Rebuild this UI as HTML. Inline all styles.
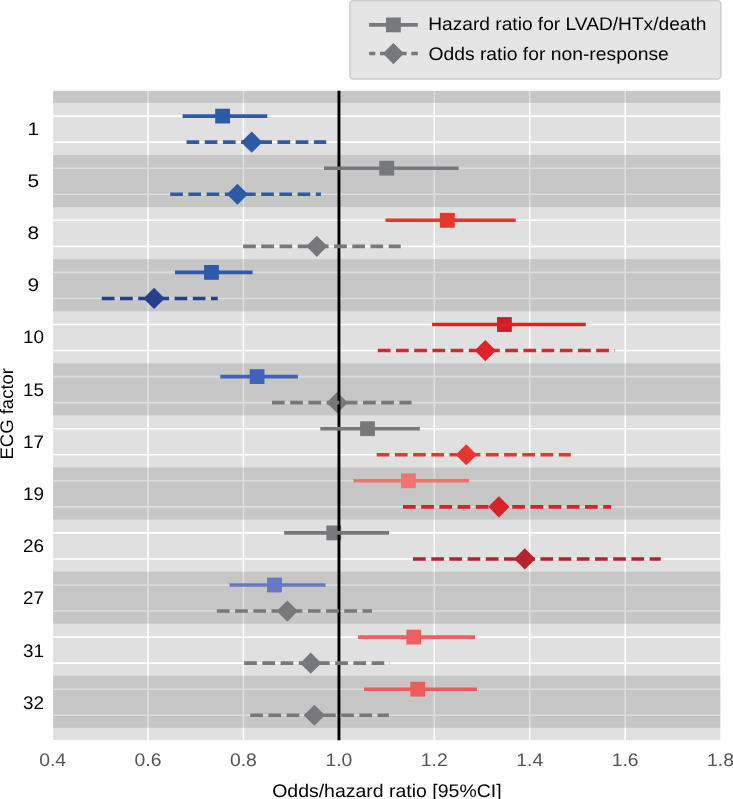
<!DOCTYPE html>
<html><head><meta charset="utf-8"><title>ECG factor forest plot</title>
<style>html,body{margin:0;padding:0;background:#fff}body{width:733px;height:799px;overflow:hidden}svg{display:block;will-change:transform}text{font-family:"Liberation Sans",sans-serif;text-rendering:geometricPrecision}</style>
</head><body>
<svg width="733" height="799" viewBox="0 0 733 799">
<rect x="0" y="0" width="733" height="799" fill="#ffffff"/>
<rect x="53.20" y="90.85" width="667.10" height="649.30" fill="#e0e0e0"/>
<g stroke="#ffffff" stroke-width="1.6">
<line x1="148.02" y1="90.85" x2="148.02" y2="740.15"/>
<line x1="243.44" y1="90.85" x2="243.44" y2="740.15"/>
<line x1="338.86" y1="90.85" x2="338.86" y2="740.15"/>
<line x1="434.28" y1="90.85" x2="434.28" y2="740.15"/>
<line x1="529.70" y1="90.85" x2="529.70" y2="740.15"/>
<line x1="625.12" y1="90.85" x2="625.12" y2="740.15"/>
<line x1="53.20" y1="116.10" x2="720.30" y2="116.10"/>
<line x1="53.20" y1="142.15" x2="720.30" y2="142.15"/>
<line x1="53.20" y1="168.20" x2="720.30" y2="168.20"/>
<line x1="53.20" y1="194.25" x2="720.30" y2="194.25"/>
<line x1="53.20" y1="220.30" x2="720.30" y2="220.30"/>
<line x1="53.20" y1="246.35" x2="720.30" y2="246.35"/>
<line x1="53.20" y1="272.40" x2="720.30" y2="272.40"/>
<line x1="53.20" y1="298.45" x2="720.30" y2="298.45"/>
<line x1="53.20" y1="324.50" x2="720.30" y2="324.50"/>
<line x1="53.20" y1="350.55" x2="720.30" y2="350.55"/>
<line x1="53.20" y1="376.60" x2="720.30" y2="376.60"/>
<line x1="53.20" y1="402.65" x2="720.30" y2="402.65"/>
<line x1="53.20" y1="428.70" x2="720.30" y2="428.70"/>
<line x1="53.20" y1="454.75" x2="720.30" y2="454.75"/>
<line x1="53.20" y1="480.80" x2="720.30" y2="480.80"/>
<line x1="53.20" y1="506.85" x2="720.30" y2="506.85"/>
<line x1="53.20" y1="532.90" x2="720.30" y2="532.90"/>
<line x1="53.20" y1="558.95" x2="720.30" y2="558.95"/>
<line x1="53.20" y1="585.00" x2="720.30" y2="585.00"/>
<line x1="53.20" y1="611.05" x2="720.30" y2="611.05"/>
<line x1="53.20" y1="637.10" x2="720.30" y2="637.10"/>
<line x1="53.20" y1="663.15" x2="720.30" y2="663.15"/>
<line x1="53.20" y1="689.20" x2="720.30" y2="689.20"/>
<line x1="53.20" y1="715.25" x2="720.30" y2="715.25"/>
</g>
<rect x="53.20" y="90.85" width="667.10" height="12.05" fill="#808080" fill-opacity="0.27"/>
<rect x="53.20" y="154.98" width="667.10" height="52.08" fill="#808080" fill-opacity="0.27"/>
<rect x="53.20" y="259.14" width="667.10" height="52.08" fill="#808080" fill-opacity="0.27"/>
<rect x="53.20" y="363.30" width="667.10" height="52.08" fill="#808080" fill-opacity="0.27"/>
<rect x="53.20" y="467.46" width="667.10" height="52.08" fill="#808080" fill-opacity="0.27"/>
<rect x="53.20" y="571.62" width="667.10" height="52.08" fill="#808080" fill-opacity="0.27"/>
<rect x="53.20" y="675.78" width="667.10" height="52.08" fill="#808080" fill-opacity="0.27"/>
<rect x="215.20" y="108.70" width="14.80" height="14.80" fill="#2e5aa9"/>
<path d="M241.10 142.15L251.70 131.55L262.30 142.15L251.70 152.75Z" fill="#2e5aa9"/>
<rect x="379.30" y="160.80" width="14.80" height="14.80" fill="#77787b"/>
<path d="M226.80 194.25L237.40 183.65L248.00 194.25L237.40 204.85Z" fill="#2e5aa9"/>
<rect x="439.90" y="212.90" width="14.80" height="14.80" fill="#e8352e"/>
<path d="M306.20 246.35L316.80 235.75L327.40 246.35L316.80 256.95Z" fill="#77787b"/>
<rect x="204.10" y="265.00" width="14.80" height="14.80" fill="#2e5aa9"/>
<path d="M143.50 298.45L154.10 287.85L164.70 298.45L154.10 309.05Z" fill="#253f8c"/>
<rect x="497.00" y="317.10" width="14.80" height="14.80" fill="#cf1e26"/>
<path d="M474.70 350.55L485.30 339.95L495.90 350.55L485.30 361.15Z" fill="#e3212a"/>
<rect x="249.70" y="369.20" width="14.80" height="14.80" fill="#4262b5"/>
<path d="M326.60 402.65L337.20 392.05L347.80 402.65L337.20 413.25Z" fill="#77787b"/>
<rect x="360.10" y="421.30" width="14.80" height="14.80" fill="#77787b"/>
<path d="M455.60 454.75L466.20 444.15L476.80 454.75L466.20 465.35Z" fill="#e8352d"/>
<rect x="401.00" y="473.40" width="14.80" height="14.80" fill="#f27272"/>
<path d="M488.30 506.85L498.90 496.25L509.50 506.85L498.90 517.45Z" fill="#d6222a"/>
<rect x="326.40" y="525.50" width="14.80" height="14.80" fill="#77787b"/>
<path d="M514.20 558.95L524.80 548.35L535.40 558.95L524.80 569.55Z" fill="#b5242c"/>
<rect x="267.10" y="577.60" width="14.80" height="14.80" fill="#6877c4"/>
<path d="M276.70 611.05L287.30 600.45L297.90 611.05L287.30 621.65Z" fill="#77787b"/>
<rect x="406.40" y="629.70" width="14.80" height="14.80" fill="#ee5f5f"/>
<path d="M300.10 663.15L310.70 652.55L321.30 663.15L310.70 673.75Z" fill="#77787b"/>
<rect x="410.30" y="681.80" width="14.80" height="14.80" fill="#ef5a5a"/>
<path d="M303.80 715.25L314.40 704.65L325.00 715.25L314.40 725.85Z" fill="#77787b"/>
<line x1="338.95" y1="90.85" x2="338.95" y2="740.15" stroke="#000" stroke-width="2.9"/>
<line x1="182.60" y1="116.10" x2="267.30" y2="116.10" stroke="#2e5aa9" stroke-width="3.60"/>
<line x1="186.50" y1="142.15" x2="326.30" y2="142.15" stroke="#2e5aa9" stroke-width="3.60" stroke-dasharray="12.7 5.5"/>
<line x1="324.00" y1="168.20" x2="458.60" y2="168.20" stroke="#77787b" stroke-width="3.60"/>
<line x1="170.20" y1="194.25" x2="320.90" y2="194.25" stroke="#2e5aa9" stroke-width="3.60" stroke-dasharray="12.7 5.5"/>
<line x1="385.50" y1="220.30" x2="515.70" y2="220.30" stroke="#e8352e" stroke-width="3.60"/>
<line x1="243.10" y1="246.35" x2="400.70" y2="246.35" stroke="#77787b" stroke-width="3.60" stroke-dasharray="12.7 5.5"/>
<line x1="175.00" y1="272.40" x2="252.60" y2="272.40" stroke="#2e5aa9" stroke-width="3.60"/>
<line x1="101.80" y1="298.45" x2="217.70" y2="298.45" stroke="#253f8c" stroke-width="3.60" stroke-dasharray="12.7 5.5"/>
<line x1="432.10" y1="324.50" x2="585.70" y2="324.50" stroke="#dc2127" stroke-width="3.60"/>
<line x1="377.80" y1="350.55" x2="614.80" y2="350.55" stroke="#e3212a" stroke-width="3.60" stroke-dasharray="12.7 5.5"/>
<line x1="220.30" y1="376.60" x2="297.90" y2="376.60" stroke="#4262b5" stroke-width="3.60"/>
<line x1="272.00" y1="402.65" x2="411.50" y2="402.65" stroke="#77787b" stroke-width="3.60" stroke-dasharray="12.7 5.5"/>
<line x1="320.30" y1="428.70" x2="419.80" y2="428.70" stroke="#77787b" stroke-width="3.60"/>
<line x1="376.70" y1="454.75" x2="570.80" y2="454.75" stroke="#e8352d" stroke-width="3.60" stroke-dasharray="12.7 5.5"/>
<line x1="353.40" y1="480.80" x2="469.10" y2="480.80" stroke="#f27272" stroke-width="3.60"/>
<line x1="403.00" y1="506.85" x2="611.20" y2="506.85" stroke="#d6222a" stroke-width="3.60" stroke-dasharray="12.7 5.5"/>
<line x1="284.20" y1="532.90" x2="389.00" y2="532.90" stroke="#77787b" stroke-width="3.60"/>
<line x1="413.00" y1="558.95" x2="660.70" y2="558.95" stroke="#b5242c" stroke-width="3.60" stroke-dasharray="12.7 5.5"/>
<line x1="229.50" y1="585.00" x2="325.50" y2="585.00" stroke="#6877c4" stroke-width="3.60"/>
<line x1="216.90" y1="611.05" x2="371.90" y2="611.05" stroke="#77787b" stroke-width="3.60" stroke-dasharray="12.7 5.5"/>
<line x1="358.10" y1="637.10" x2="475.10" y2="637.10" stroke="#ee5f5f" stroke-width="3.60"/>
<line x1="244.20" y1="663.15" x2="390.00" y2="663.15" stroke="#77787b" stroke-width="3.60" stroke-dasharray="12.7 5.5"/>
<line x1="364.10" y1="689.20" x2="476.90" y2="689.20" stroke="#ef5a5a" stroke-width="3.60"/>
<line x1="250.20" y1="715.25" x2="388.90" y2="715.25" stroke="#77787b" stroke-width="3.60" stroke-dasharray="12.7 5.5"/>
<text x="33.4" y="134.70" font-size="18.2" text-anchor="middle" fill="#000" textLength="11.6" lengthAdjust="spacingAndGlyphs">1</text>
<text x="33.4" y="186.88" font-size="18.2" text-anchor="middle" fill="#000" textLength="11.6" lengthAdjust="spacingAndGlyphs">5</text>
<text x="33.4" y="239.06" font-size="18.2" text-anchor="middle" fill="#000" textLength="11.6" lengthAdjust="spacingAndGlyphs">8</text>
<text x="33.4" y="291.24" font-size="18.2" text-anchor="middle" fill="#000" textLength="11.6" lengthAdjust="spacingAndGlyphs">9</text>
<text x="33.4" y="343.42" font-size="18.2" text-anchor="middle" fill="#000" textLength="21.0" lengthAdjust="spacingAndGlyphs">10</text>
<text x="33.4" y="395.60" font-size="18.2" text-anchor="middle" fill="#000" textLength="21.0" lengthAdjust="spacingAndGlyphs">15</text>
<text x="33.4" y="447.78" font-size="18.2" text-anchor="middle" fill="#000" textLength="21.0" lengthAdjust="spacingAndGlyphs">17</text>
<text x="33.4" y="499.96" font-size="18.2" text-anchor="middle" fill="#000" textLength="21.0" lengthAdjust="spacingAndGlyphs">19</text>
<text x="33.4" y="552.14" font-size="18.2" text-anchor="middle" fill="#000" textLength="21.0" lengthAdjust="spacingAndGlyphs">26</text>
<text x="33.4" y="604.32" font-size="18.2" text-anchor="middle" fill="#000" textLength="21.0" lengthAdjust="spacingAndGlyphs">27</text>
<text x="33.4" y="656.50" font-size="18.2" text-anchor="middle" fill="#000" textLength="21.0" lengthAdjust="spacingAndGlyphs">31</text>
<text x="33.4" y="708.68" font-size="18.2" text-anchor="middle" fill="#000" textLength="21.0" lengthAdjust="spacingAndGlyphs">32</text>
<text x="52.60" y="766.3" font-size="18.2" text-anchor="middle" fill="#555555" textLength="26.9" lengthAdjust="spacingAndGlyphs">0.4</text>
<text x="148.02" y="766.3" font-size="18.2" text-anchor="middle" fill="#555555" textLength="26.9" lengthAdjust="spacingAndGlyphs">0.6</text>
<text x="243.44" y="766.3" font-size="18.2" text-anchor="middle" fill="#555555" textLength="26.9" lengthAdjust="spacingAndGlyphs">0.8</text>
<text x="338.86" y="766.3" font-size="18.2" text-anchor="middle" fill="#555555" textLength="26.9" lengthAdjust="spacingAndGlyphs">1.0</text>
<text x="434.28" y="766.3" font-size="18.2" text-anchor="middle" fill="#555555" textLength="26.9" lengthAdjust="spacingAndGlyphs">1.2</text>
<text x="529.70" y="766.3" font-size="18.2" text-anchor="middle" fill="#555555" textLength="26.9" lengthAdjust="spacingAndGlyphs">1.4</text>
<text x="625.12" y="766.3" font-size="18.2" text-anchor="middle" fill="#555555" textLength="26.9" lengthAdjust="spacingAndGlyphs">1.6</text>
<text x="720.54" y="766.3" font-size="18.2" text-anchor="middle" fill="#555555" textLength="26.9" lengthAdjust="spacingAndGlyphs">1.8</text>
<text x="386.9" y="796.7" font-size="18.2" text-anchor="middle" fill="#000" textLength="229.4" lengthAdjust="spacingAndGlyphs">Odds/hazard ratio [95%CI]</text>
<text transform="translate(13.3 413.8) rotate(-90)" font-size="18.2" text-anchor="middle" fill="#000" textLength="91.6" lengthAdjust="spacingAndGlyphs">ECG factor</text>
<rect x="349.9" y="0.6" width="370.9" height="78.3" rx="3.4" ry="3.4" fill="#e5e5e5" stroke="#cccccc" stroke-width="1.5"/>
<line x1="369.1" y1="24.9" x2="417.8" y2="24.9" stroke="#77787b" stroke-width="3.60"/>
<rect x="386.00" y="17.50" width="14.80" height="14.80" fill="#77787b"/>
<path d="M369.1 53.55H375.3M380 53.55H406.6M411.3 53.55H417.8" stroke="#77787b" stroke-width="3.60" fill="none"/>
<path d="M382.80 53.55L393.40 42.95L404.00 53.55L393.40 64.15Z" fill="#77787b"/>
<text x="428.2" y="30" font-size="18.2" fill="#000" textLength="278.3" lengthAdjust="spacingAndGlyphs">Hazard ratio for LVAD/HTx/death</text>
<text x="428.4" y="60.4" font-size="18.2" fill="#000" textLength="240.4" lengthAdjust="spacingAndGlyphs">Odds ratio for non-response</text>
</svg></body></html>
